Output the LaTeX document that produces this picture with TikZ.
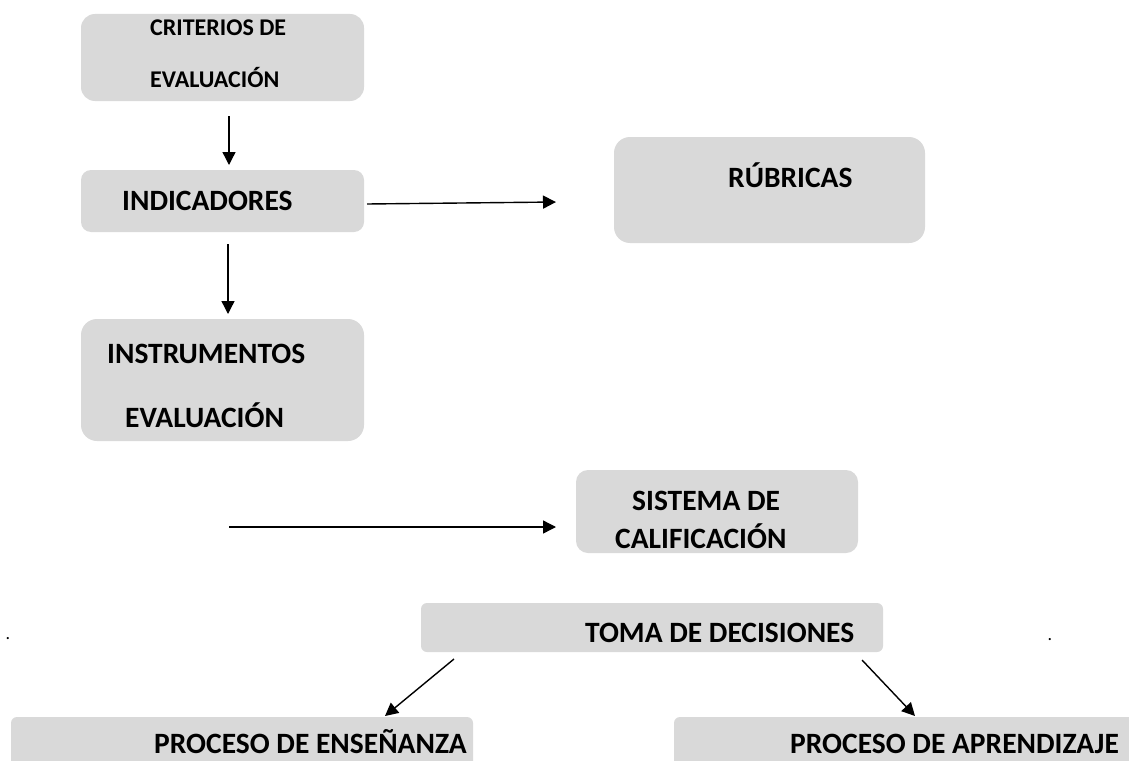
\documentclass[tikz,border=0pt]{standalone}
\usepackage{fontspec}
\setmainfont{Carlito}
\usetikzlibrary{arrows.meta}
\definecolor{boxgray}{HTML}{D9D9D9}
\tikzset{
  box/.style={fill=boxgray, draw=none, inner sep=0pt, rectangle},
  lbl/.style={inner sep=0pt, anchor=base west, font=\bfseries\fontsize{29.5}{35}\selectfont},
  biglbl/.style={inner sep=0pt, anchor=base west, text depth=0pt, font=\bfseries\fontsize{29.5}{35}\selectfont},
  smalllbl/.style={inner sep=0pt, anchor=base west, font=\bfseries\fontsize{24}{28}\selectfont},
  arr/.style={line width=1.4pt, -{Triangle[length=13pt,width=13pt]}},
  dotlbl/.style={inner sep=0pt, anchor=base, font=\fontsize{18}{18}\selectfont}
}
\begin{document}
\begin{tikzpicture}[x=1pt,y=-1pt]
\path[use as bounding box, clip] (0,0) rectangle (1129,760);
\fill[white] (0,0) rectangle (1129,760);
% boxes
\node[box, minimum width=283pt, minimum height=87pt, rounded corners=14pt] (crit) at (222.5,57.5) {};
\node[box, minimum width=283pt, minimum height=62pt, rounded corners=10pt] (ind) at (222.5,201) {};
\node[box, minimum width=311pt, minimum height=106pt, rounded corners=16pt] (rub) at (769.5,190) {};
\node[box, minimum width=283pt, minimum height=122pt, rounded corners=16pt] (inst) at (222.5,380) {};
\node[box, minimum width=282pt, minimum height=83pt, rounded corners=12pt] (sis) at (717,511.5) {};
\node[box, minimum width=462pt, minimum height=49pt, rounded corners=6pt] (toma) at (652,627.5) {};
\node[box, minimum width=462pt, minimum height=90pt, rounded corners=6pt] (ens) at (242,762) {};
\node[box, minimum width=500pt, minimum height=90pt, rounded corners=6pt] (apr) at (924,762) {};
% texts
\node[smalllbl] (t1) at (150,36) {CRITERIOS DE};
\node[smalllbl] (t2) at (150,88) {EVALUACIÓN};
\node[lbl] (t3) at (122,210) {INDICADORES};
\node[lbl] (t4) at (728,187) {RÚBRICAS};
\node[lbl] (t5) at (107,363) {INSTRUMENTOS};
\node[lbl] (t6) at (125,427) {EVALUACIÓN};
\node[lbl] (t7) at (632,510) {SISTEMA DE};
\node[lbl] (t8) at (615,548) {CALIFICACIÓN};
\node[lbl] (t9) at (585,642) {TOMA DE DECISIONES};
\node[biglbl] (t10) at (154,753) {PROCESO DE ENSEÑANZA};
\node[biglbl] (t11) at (790,753) {PROCESO DE APRENDIZAJE};
\node[dotlbl] (d1) at (8,639) {.};
\node[dotlbl] (d2) at (1050,640) {.};
% arrow end points
\coordinate (a1s) at (229,116);
\coordinate (a1e) at (229,165);
\coordinate (a2s) at (367,204);
\coordinate (a2e) at (556,202);
\coordinate (a3s) at (228,244);
\coordinate (a3e) at (228,314);
\coordinate (a4s) at (229,527);
\coordinate (a4e) at (556,527);
\coordinate (a5s) at (454,659);
\coordinate (a5e) at (385,716);
\coordinate (a6s) at (862,660);
\coordinate (a6e) at (915,716);
\draw[arr] (a1s) -- (a1e);
\draw[arr] (a2s) -- (a2e);
\draw[arr] (a3s) -- (a3e);
\draw[arr] (a4s) -- (a4e);
\draw[arr] (a5s) -- (a5e);
\draw[arr] (a6s) -- (a6e);
\end{tikzpicture}
\end{document}
